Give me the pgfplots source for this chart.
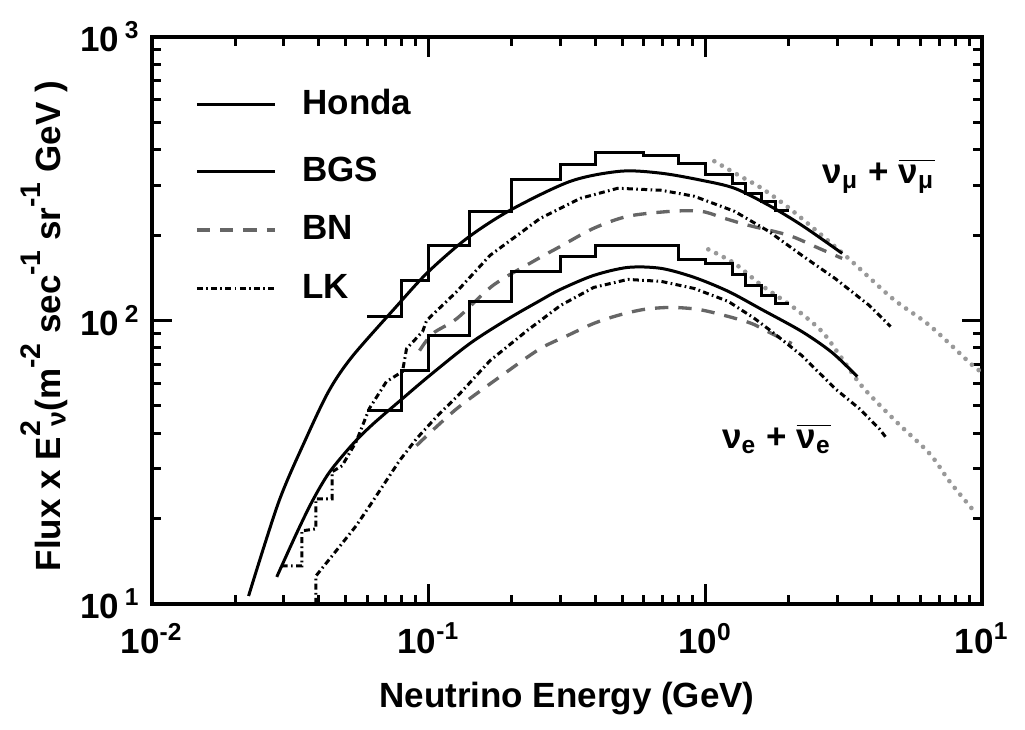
\documentclass[border=0pt]{standalone}
\usepackage{fontspec}
\setmainfont{Liberation Sans}
\usepackage{pgfplots}
\pgfplotsset{compat=1.18}
\pgfplotsset{hondaleg/.style={legend image code/.code={\draw[##1] (0pt,0pt) -- (23.4pt,0pt); \path (0pt,-6.5pt);}}}
\newcommand{\upx}[1]{\raisebox{1.05ex}{\fontsize{8.5}{10}\selectfont #1}}
\begin{document}
\begin{tikzpicture}[font=\fontsize{10.5}{12.6}\selectfont\bfseries]
\begin{axis}[
  name=ax, at={(0,0)}, anchor=south west,
  scale only axis, width=249pt, height=170.1pt,
  xmode=log, ymode=log,
  xmin=0.01, xmax=10, ymin=10, ymax=1000,
  axis line style={line width=1.4pt},
  tick align=inside,
  major tick length=6pt, minor tick length=2.7pt,
  tick style={black, line width=0.9pt},
  xtick={0.01,0.1,1,10},
  minor xtick={0.02,0.03,0.04,0.05,0.06,0.07,0.08,0.09,0.2,0.3,0.4,0.5,0.6,0.7,0.8,0.9,2,3,4,5,6,7,8,9},
  xticklabels={10\textsuperscript{-2},10\textsuperscript{-1},10\textsuperscript{0},10\textsuperscript{1}},
  xticklabel style={yshift=-2.2pt},
  ytick={10,100,1000},
  minor ytick={20,30,40,50,60,70,80,90,200,300,400,500,600,700,800,900},
  yticklabels={10\,\textsuperscript{1},10\,\textsuperscript{2},10\,\textsuperscript{3}},
  xlabel={Neutrino Energy (GeV)},
  xlabel style={yshift=-1.5pt},
  ylabel={Flux x E\upx{2}\kern-0.15em\raisebox{-0.3ex}{\fontsize{8}{9}\selectfont ν}(m\upx{-2} sec\upx{-1} sr\upx{-1} GeV )},
  ylabel style={at={(ticklabel cs:0.49)}},
  ylabel shift=-3pt,
  legend cell align=left,
  legend style={at={(rel axis cs:0.052,0.908)}, anchor=north west, draw=none, fill=none,
    inner sep=0pt, outer sep=0pt, row sep=8.8pt, column sep=7.8pt,
    nodes={inner sep=0pt, outer sep=0pt}},
  legend image code/.code={\draw[#1] (0pt,0pt) -- (23.4pt,0pt);},
]
% gray dotted extensions
\addplot[forget plot, black!40, line width=1.4pt, dash pattern=on 0pt off 2.6pt, line cap=round, smooth] coordinates {
(1.078,364.6) (1.318,325.4) (1.598,292.7) (2.054,244.8) (3.20,169.7) (4.746,119.6) (6.47,96.0) (9.27,69.3) (10,66)};
\addplot[forget plot, black!40, line width=1.4pt, dash pattern=on 0pt off 2.6pt, line cap=round, smooth] coordinates {
(1.025,178.2) (1.275,159.0) (1.598,133.0) (2.107,110.3) (2.641,91.4) (3.12,73.4) (3.69,58.5) (4.86,44.3) (6.47,33.9) (7.65,27.0) (9.27,21.5)};
% Honda upper
\addplot[black, line width=0.9pt, const plot mark left, hondaleg] coordinates {
(0.06,103.3) (0.08,138.5) (0.1,184) (0.14,243) (0.2,315) (0.3,356) (0.4,392) (0.6,383) (0.8,359) (1.0,328) (1.25,305) (1.4,281) (1.6,263) (1.8,245) (2.0,245)};
\addlegendentry{Honda}
% BGS upper
\addplot[black, line width=0.9pt, smooth] coordinates {
(0.02234,10.67) (0.02872,22.93) (0.03601,38.28) (0.04365,56.57) (0.05292,74.61) (0.07648,112.1) (0.0992,147.8) (0.1375,194.9) (0.197,244.8) (0.3256,309.8) (0.4949,336.2) (0.6918,330.8) (0.9671,312.4) (1.275,292.7) (1.695,254.9) (2.234,216.6) (3.123,172.5)};
\addlegendentry{BGS}
% BN upper
\addplot[black!60, line width=1pt, dash pattern=on 4pt off 3pt, smooth] coordinates {
(0.0927,78.3) (0.1034,89.9) (0.1265,101.6) (0.1709,133.0) (0.2388,161.6) (0.2995,182.6) (0.3948,211.4) (0.5248,233.1) (0.752,242.7) (0.967,242.7) (1.172,229.3) (1.432,216.6) (2.003,199.7) (2.576,179.7) (3.123,165.6)};
\addlegendentry{BN}
% LK upper
\addplot[black, line width=0.9pt, dash pattern=on 1.8pt off 1pt on 0.5pt off 1pt] coordinates {
(0.02944,13.62) (0.03481,13.62) (0.03481,18.11) (0.03915,18.41) (0.03915,23.5) (0.04477,23.5) (0.04477,29.27) (0.04867,30.74) (0.0547,37.36) (0.061,48.87) (0.07037,60.88) (0.08043,66.04) (0.0832,79.6) (0.0951,91.4) (0.0983,100) (0.1265,126.6) (0.1667,169.7) (0.2532,229.3) (0.354,269.8) (0.4828,292.7) (0.692,288.0) (0.912,274.3) (1.115,254.9) (1.275,242.7) (1.694,206.4) (2.234,169.7) (2.944,140.7) (3.915,113.0) (4.67,95.2)};
\addlegendentry{LK}
% Honda lower
\addplot[forget plot, black, line width=0.9pt, const plot mark left] coordinates {
(0.06,48.1) (0.08,66.5) (0.1,88.5) (0.14,116.7) (0.2,149) (0.3,168) (0.4,184) (0.6,184) (0.8,164) (1.0,159) (1.25,145) (1.4,133) (1.6,122.5) (1.8,114.8) (2.0,114.8)};
% BGS lower
\addplot[forget plot, black, line width=0.9pt, smooth] coordinates {
(0.02825,12.46) (0.03311,17.53) (0.03786,22.93) (0.04365,29.03) (0.05292,36.46) (0.06257,42.91) (0.08043,53.02) (0.1008,63.93) (0.1409,82.94) (0.1921,100.8) (0.2532,117.7) (0.2995,128.7) (0.3948,144.2) (0.5248,153.9) (0.6918,152.7) (0.912,141.9) (1.212,126.6) (1.598,109.4) (2.234,91.4) (2.872,77.1) (3.541,63.4)};
% BN lower
\addplot[forget plot, black!60, line width=1pt, dash pattern=on 4pt off 3pt, smooth] coordinates {
(0.09036,36.2) (0.1265,48.9) (0.1921,66.0) (0.2532,79.6) (0.3177,88.5) (0.3948,97.6) (0.4828,104.2) (0.6,109.4) (0.752,111.2) (0.943,109.4) (1.172,104.2) (1.469,97.6) (1.738,89.9) (2.054,82.9)};
% LK lower
\addplot[forget plot, black, line width=0.9pt, dash pattern=on 1.8pt off 1pt on 0.5pt off 1pt] coordinates {
(0.03915,10) (0.03915,12.56) (0.04477,14.78) (0.0547,18.87) (0.0626,22.93) (0.0784,32.0) (0.0904,38.3) (0.1069,45.8) (0.1296,55.2) (0.1667,72.2) (0.2272,92.2) (0.2996,113.0) (0.395,130.8) (0.525,139.6) (0.692,137.4) (0.912,129.7) (1.212,116.7) (1.507,101.6) (1.738,91.4) (2.234,75.2) (2.944,57.5) (3.601,48.9) (4.256,41.5) (4.477,38.9)};
\node[anchor=west, inner sep=0pt] at (axis cs:2.64,323) {ν\textsubscript{μ} + $\overline{\hbox{ν\textsubscript{μ}}}$};
\node[anchor=west, inner sep=0pt] at (axis cs:1.143,38.3) {ν\textsubscript{e} + $\overline{\hbox{ν\textsubscript{e}}}$};
\end{axis}
\pgfresetboundingbox
\useasboundingbox (-45.6pt,-37.8pt) rectangle (261.9pt,181.2pt);
\end{tikzpicture}
\end{document}
